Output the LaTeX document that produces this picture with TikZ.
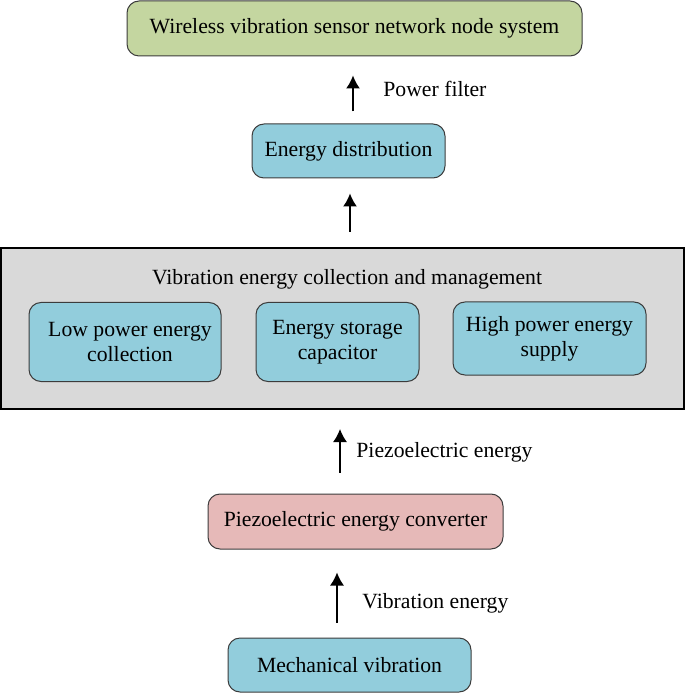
\documentclass[tikz,border=0pt]{standalone}
\usepackage{fontspec}
\setmainfont{Liberation Serif}
\usetikzlibrary{arrows.meta}
\usetikzlibrary{positioning}
\definecolor{mgreen}{RGB}{196, 214, 160}
\definecolor{mblue}{RGB}{146, 205, 220}
\definecolor{mpink}{RGB}{230, 185, 184}
\definecolor{mgray}{RGB}{217, 217, 217}
\definecolor{mborder}{RGB}{60, 60, 60}
\tikzset{stage/.style = {draw=mborder, line width=0.5pt, rounded corners=6pt,
                         align=center, inner sep=0pt},
         arr/.style = {-{Latex[length=6.5pt, width=7pt]}, line width=0.75pt},
         lbl/.style = {anchor=west, inner sep=0pt}}

\begin{document}
\begin{tikzpicture}[x=0.5pt, y=-0.5pt, font=\fontsize{10.85pt}{12.5pt}\selectfont]
      \useasboundingbox (0, 0) rectangle (685, 694);

      % outer management block
      \node [draw, line width=1pt, fill=mgray, minimum width=341.5pt, minimum height=80.5pt,
             inner sep=0pt] (mgmt) at (342.5, 328.5) {};
      \node [inner sep=0pt] (mgmttitle) at (347, 279) {Vibration energy collection and management};

      \node [stage, fill=mblue, minimum width=96pt, minimum height=39.5pt] (low) at (125, 342)
            {\hspace{5pt}Low power energy\\\hspace{5pt}collection};
      \node [stage, fill=mblue, minimum width=81.5pt, minimum height=39.5pt] (stor) at (337.5, 342)
            {Energy storage\\capacitor};
      \node [stage, fill=mblue, minimum width=96.5pt, minimum height=36.5pt] (high) at (549.5, 338.5)
            {High power energy\\supply};

      \node [stage, fill=mgreen, minimum width=227.5pt, minimum height=27.5pt] (sys) at (354.5, 28.5)
            {Wireless vibration sensor network node system};
      \node [stage, fill=mblue, minimum width=96.5pt, minimum height=27pt] (dist) at (348.5, 151)
            {Energy distribution};
      \node [stage, fill=mpink, minimum width=147.5pt, minimum height=27.5pt] (conv) at (355.5, 521.5)
            {Piezoelectric energy converter};
      \node [stage, fill=mblue, minimum width=121.5pt, minimum height=27pt] (mech) at (349.5, 665)
            {Mechanical vibration};

      \draw [arr, shorten <=7.5pt, shorten >=11.5pt] ([xshift=-6.25pt]mech.north)
            -- ([xshift=-6.25pt]mech.north |- conv.south);
      \draw [arr, shorten <=10.5pt, shorten >=9.5pt] ([xshift=-7.75pt]conv.north)
            -- ([xshift=-7.75pt]conv.north |- mgmt.south);
      \draw [arr, shorten <=7.5pt, shorten >=7.5pt] ([xshift=0.75pt]dist.north |- mgmt.north)
            -- ([xshift=0.75pt]dist.south);
      \draw [arr, shorten <=6pt, shorten >=9.5pt] ([xshift=2.25pt]dist.north)
            -- ([xshift=2.25pt]dist.north |- sys.south);

      \node [lbl] (lvib) at (362, 603) {Vibration energy};
      \node [lbl] (lpiezo) at (356, 452) {Piezoelectric energy};
      \node [lbl] (lfilter) at (383, 89) {Power filter};
    \end{tikzpicture}
\end{document}
